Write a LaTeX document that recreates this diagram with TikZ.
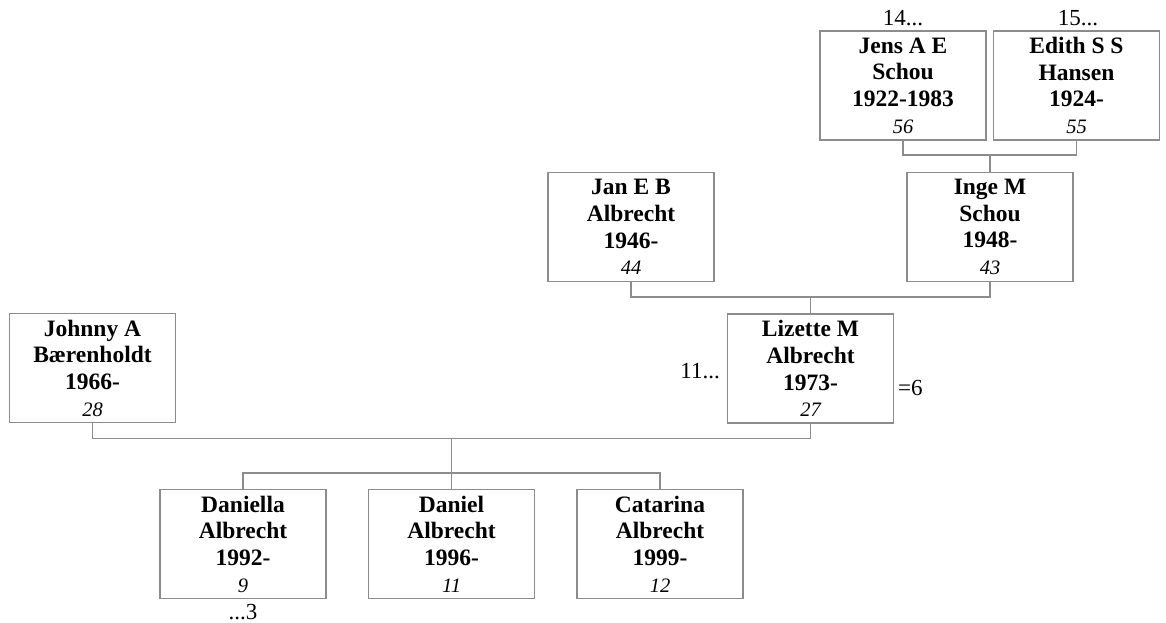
\documentclass[tikz,border=0pt]{standalone}
\usepackage{fontspec}
\setmainfont{Liberation Serif}
\definecolor{linegray}{HTML}{8C8C8C}
\tikzset{
  person/.style={draw=linegray, line width=1.3pt, rectangle, minimum width=166pt, minimum height=109pt, inner sep=0pt, align=center, font=\fontsize{23.5}{26.7}\selectfont\bfseries},
  conn/.style={draw=linegray, line width=1.3pt},
  refnum/.style={inner sep=0pt, anchor=base, font=\fontsize{23}{26}\selectfont}
}
\newcommand{\agenum}[1]{{\mdseries\itshape\fontsize{20.5}{26.7}\selectfont #1}}
\begin{document}
\begin{tikzpicture}[x=1pt,y=-1pt]
\useasboundingbox (0,0) rectangle (1166,623);
% persons
\node[person] (jens) at (903,85.5) {Jens A E\\Schou\\1922-1983\\\agenum{56}};
\node[person] (edith) at (1076.5,85.5) {Edith S S\\Hansen\\1924-\\\agenum{55}};
\node[person] (inge) at (990,227) {Inge M\\Schou\\1948-\\\agenum{43}};
\node[person] (jan) at (631,227) {Jan E B\\Albrecht\\1946-\\\agenum{44}};
\node[person] (liz) at (810.5,368.5) {Lizette M\\Albrecht\\1973-\\\agenum{27}};
\node[person] (johnny) at (92.5,368) {Johnny A\\Bærenholdt\\1966-\\\agenum{28}};
\node[person] (daniella) at (243,544) {Daniella\\Albrecht\\1992-\\\agenum{9}};
\node[person] (daniel) at (451.5,544) {Daniel\\Albrecht\\1996-\\\agenum{11}};
\node[person] (catarina) at (660,544) {Catarina\\Albrecht\\1999-\\\agenum{12}};
% junction coordinates
\coordinate (j1) at (990,155);
\coordinate (j2) at (810.5,297);
\coordinate (j3) at (451.5,438.5);
\coordinate (j4) at (451.5,473);
% connectors
\draw[conn] (jens.south) |- (j1) -| (edith.south);
\draw[conn] (j1) -- (inge.north);
\draw[conn] (jan.south) |- (j2) -| (inge.south);
\draw[conn] (j2) -- (liz.north);
\draw[conn] (johnny.south) |- (j3) -| (liz.south);
\draw[conn] (j3) -- (daniel.north);
\draw[conn] (daniella.north) |- (j4) -| (catarina.north);
% reference labels
\node[refnum] (r14) at (903,26) {14...};
\node[refnum] (r15) at (1078,26) {15...};
\node[refnum, anchor=base east] (r11) at (720,378) {11...};
\node[refnum, anchor=base west] (r6) at (898,395) {=6};
\node[refnum] (r3) at (243,619) {...3};
\end{tikzpicture}
\end{document}
